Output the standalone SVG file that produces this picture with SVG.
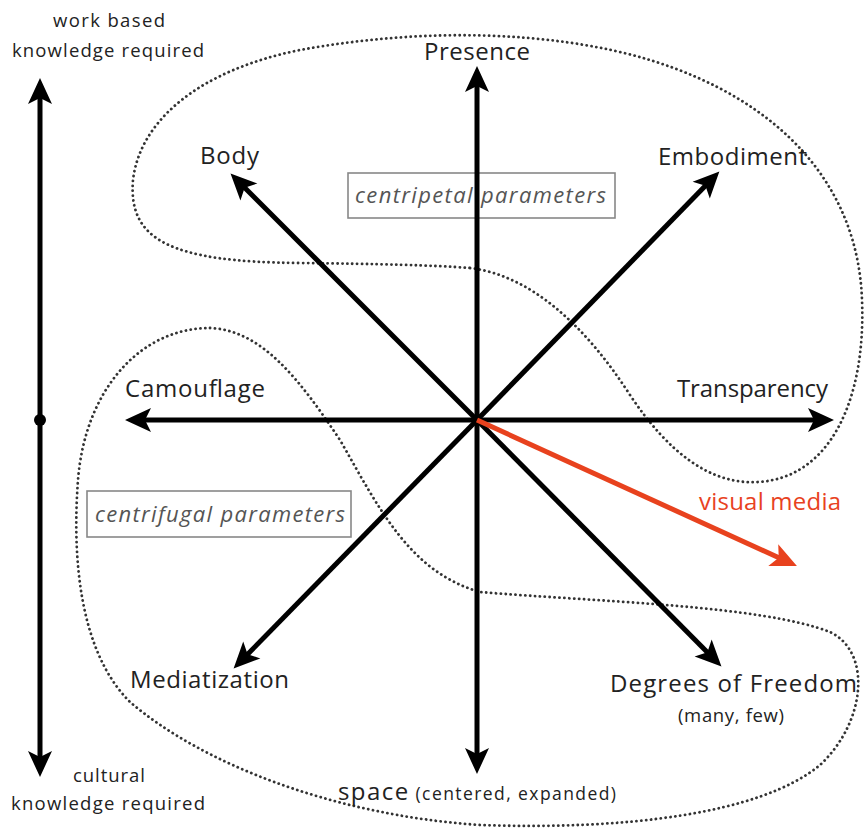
<svg xmlns="http://www.w3.org/2000/svg" width="864" height="833" viewBox="0 0 864 833">
<style>
.lbl{font-family:"Open Sans","Liberation Sans",sans-serif;fill:#222;font-size:24px}
.sm{font-family:"Open Sans","Liberation Sans",sans-serif;fill:#222;font-size:18.5px}
.it{font-family:"Open Sans","Liberation Sans",sans-serif;fill:#555;font-size:22px;font-style:italic}
.ax{stroke:#000;stroke-width:5;fill:none}
.red{stroke:#e8421e;stroke-width:5;fill:none}
.blob{fill:none;stroke:#333;stroke-width:2.8;stroke-dasharray:0.1 4.8;stroke-linecap:round}
.box{fill:#fff;stroke:#888;stroke-width:1.6}
</style>
<defs>
<marker id="ah" markerUnits="userSpaceOnUse" viewBox="-2 -14 30 28" refX="14" refY="0" markerWidth="30" markerHeight="28" orient="auto-start-reverse">
<path d="M26,0 L0,-12 L6,0 L0,12 Z" fill="#000"/>
</marker>
<marker id="ahr" markerUnits="userSpaceOnUse" viewBox="-2 -14 30 28" refX="14" refY="0" markerWidth="30" markerHeight="28" orient="auto">
<path d="M26,0 L0,-12 L6,0 L0,12 Z" fill="#e8421e"/>
</marker>
</defs>
<rect width="864" height="833" fill="#fff"/>
<g id="regions">
<path class="blob" d="M470,268 C530,275 585,325 630,395 C668,452 710,485 758,482 C830,478 866,400 862,300 C858,185 780,100 650,60 C550,30 420,28 300,50 C200,70 140,120 133,180 C128,240 170,262 300,263 C380,264 430,265 470,268 Z"/>
<path class="blob" d="M210,328 C262,330 300,380 340,440 C380,510 410,572 480,592 C600,602 760,605 830,632 C872,652 866,722 820,765 C760,815 620,830 480,825 C330,815 200,762 130,702 C80,652 72,560 78,480 C85,390 140,328 210,328 Z"/>
</g>
<g id="centripetal">
<rect class="box" x="348" y="173" width="267" height="45"/>
<text class="it" x="355" y="203" textLength="251">centripetal parameters</text>
</g>
<g id="centrifugal">
<rect class="box" x="87" y="491" width="264" height="46"/>
<text class="it" x="95" y="522" textLength="250">centrifugal parameters</text>
</g>
<g id="connectors">
<line class="ax" x1="477" y1="420" x2="477" y2="78" marker-end="url(#ah)"/>
<line class="ax" x1="477" y1="420" x2="477" y2="762" marker-end="url(#ah)"/>
<line class="ax" x1="477" y1="420" x2="137" y2="420" marker-end="url(#ah)"/>
<line class="ax" x1="477" y1="420" x2="822" y2="420" marker-end="url(#ah)"/>
<line class="ax" x1="477" y1="420" x2="239" y2="182" marker-end="url(#ah)"/>
<line class="ax" x1="477" y1="420" x2="711" y2="180" marker-end="url(#ah)"/>
<line class="ax" x1="477" y1="420" x2="242" y2="660" marker-end="url(#ah)"/>
<line class="ax" x1="477" y1="420" x2="713" y2="658" marker-end="url(#ah)"/>
<line class="red" x1="477" y1="420" x2="786" y2="561" marker-end="url(#ahr)"/>
<line class="ax" x1="40" y1="90" x2="40" y2="765" marker-start="url(#ah)" marker-end="url(#ah)"/>
<circle cx="40" cy="420" r="6" fill="#000"/>
</g>
<g id="presence"><text class="lbl" x="424" y="60" textLength="106">Presence</text></g>
<g id="body"><text class="lbl" x="200" y="164" textLength="59">Body</text></g>
<g id="embodiment"><text class="lbl" x="658" y="165" textLength="149">Embodiment</text></g>
<g id="camouflage"><text class="lbl" x="125" y="397" textLength="140">Camouflage</text></g>
<g id="transparency"><text class="lbl" x="677" y="397" textLength="151">Transparency</text></g>
<g id="visual-media"><text class="lbl" x="699" y="510" textLength="142" style="fill:#e8421e">visual media</text></g>
<g id="mediatization"><text class="lbl" x="130" y="688" textLength="159">Mediatization</text></g>
<g id="freedom">
<text class="lbl" x="610" y="692" textLength="247">Degrees of Freedom</text>
<text class="sm" x="731" y="722" text-anchor="middle" font-size="15" textLength="106">(many, few)</text>
</g>
<g id="space"><text x="338" y="800" class="lbl" textLength="278"><tspan>space</tspan><tspan font-size="17.5"> (centered, expanded)</tspan></text></g>
<g id="top-label">
<text class="sm" x="109" y="27" text-anchor="middle" textLength="112">work based</text>
<text class="sm" x="108" y="57" text-anchor="middle" textLength="192">knowledge required</text>
</g>
<g id="bottom-label">
<text class="sm" x="109" y="782" text-anchor="middle" textLength="72">cultural</text>
<text class="sm" x="108" y="810" text-anchor="middle" textLength="194">knowledge required</text>
</g>
</svg>
